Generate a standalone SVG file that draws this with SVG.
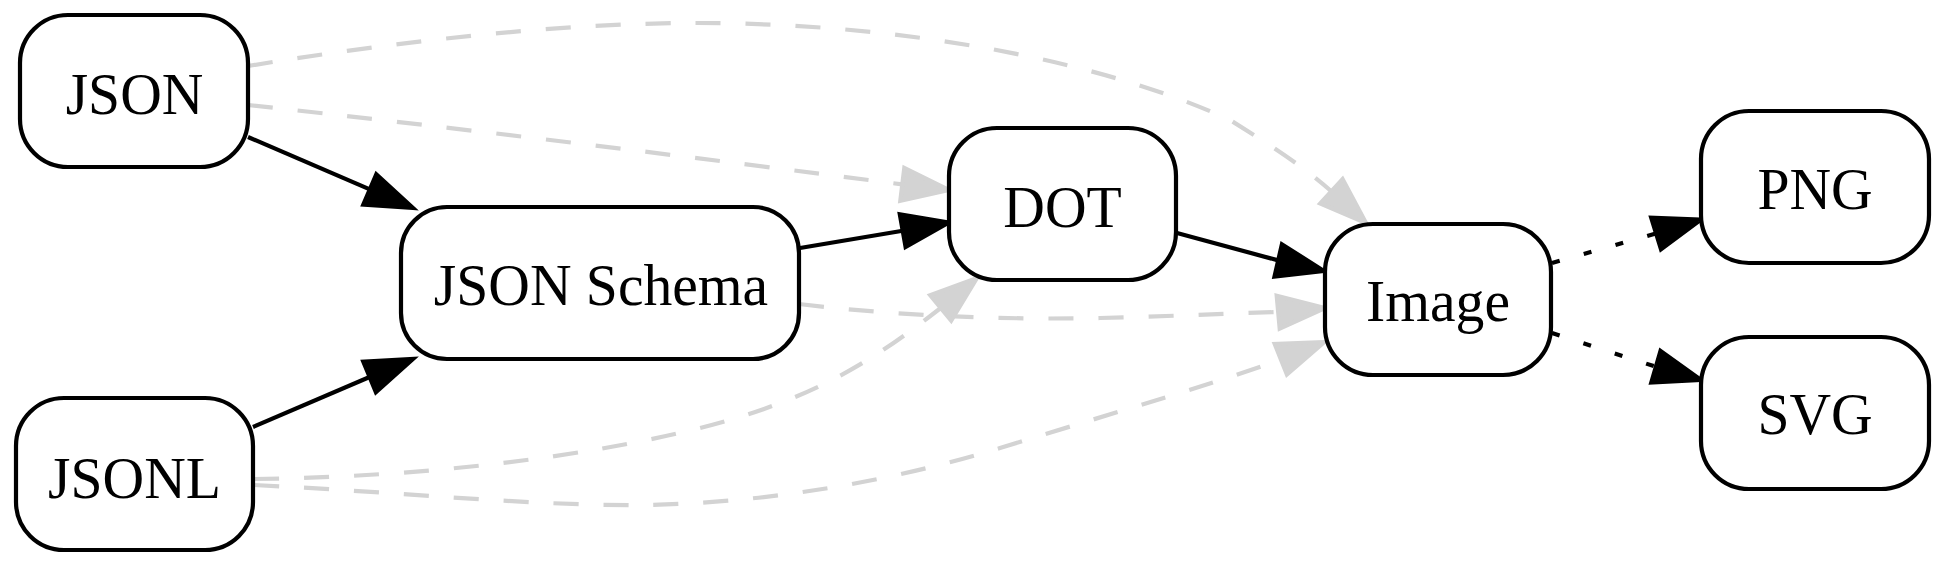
<svg xmlns="http://www.w3.org/2000/svg" width="1942" height="567" viewBox="0 0 1942 567">
<style>
.node rect{fill:#fff;stroke:#000;stroke-width:4.2}
.node text{font-family:"Liberation Serif","Times New Roman",serif;font-size:60px;fill:#000;text-anchor:middle}
.solid{fill:none;stroke:#000;stroke-width:4.2}
.dot{fill:none;stroke:#000;stroke-width:4.2;stroke-dasharray:8,25}
.gray{fill:none;stroke:#d3d3d3;stroke-width:4.2;stroke-dasharray:25,25}
.ah{fill:#000;stroke:#000;stroke-width:4.2}
.ahg{fill:#d3d3d3;stroke:#d3d3d3;stroke-width:4.2}
</style>
<rect width="1942" height="567" fill="#fff"/>
<g id="connectors">
  <!-- JSON -> Image -->
  <path class="gray" d="M248,66 C400,41 560,23 697,23 C900,23 1100,60 1230,120 C1275,148 1305,168 1331,191"/>
  <polygon class="ahg" points="1366,223 1320.2,203.4 1342.6,179"/>
  <!-- JSON -> DOT -->
  <path class="gray" d="M248,105 C450,127 700,158 902,184.4"/>
  <polygon class="ahg" points="949,190 900.3,200.8 904.3,168"/>
  <!-- JSON Schema -> Image -->
  <path class="gray" d="M799,304 C900,316 1000,320 1100,318 C1180,316 1240,313 1278,312"/>
  <polygon class="ahg" points="1325,308 1279.7,328.5 1276.7,295.7"/>
  <!-- JSONL -> DOT -->
  <path class="gray" d="M254,479 C420,477 580,458 700,428 C820,398 880,355 940.7,308"/>
  <polygon class="ahg" points="977,278 951.2,320.6 930.2,295.2"/>
  <!-- JSONL -> Image -->
  <path class="gray" d="M254,485 C400,492 530,506 640,505 C750,504 880,485 1000,448 C1120,411 1220,382 1280.8,359.3"/>
  <polygon class="ahg" points="1324.5,342 1286.9,374.6 1274.7,344"/>
  <!-- JSON -> JSON Schema -->
  <path class="solid" d="M248,137 L369.8,189.4"/>
  <polygon class="ah" points="413,208 363.3,204.6 376.3,174.2"/>
  <!-- JSONL -> JSON Schema -->
  <path class="solid" d="M253,427 L369.6,377"/>
  <polygon class="ah" points="413,359 375.9,392.2 363.3,361.8"/>
  <!-- JSON Schema -> DOT -->
  <path class="solid" d="M800,248 L902.7,230.7"/>
  <polygon class="ah" points="949,222.5 905.6,247 899.8,214.4"/>
  <!-- DOT -> Image -->
  <path class="solid" d="M1177,233 L1278.2,260.4"/>
  <polygon class="ah" points="1324,271 1274.5,276.5 1281.9,244.3"/>
  <!-- Image -> PNG -->
  <path class="dot" d="M1552,263 L1656.1,233.4"/>
  <polygon class="ah" points="1701,219.5 1661,249.2 1651.2,217.6"/>
  <!-- Image -> SVG -->
  <path class="dot" d="M1552,333 L1655.9,366.8"/>
  <polygon class="ah" points="1701,380 1651.3,382.6 1660.5,351"/>
</g>
<g id="node-json" class="node">
  <rect x="20" y="15" width="228" height="152" rx="48" ry="48"/>
  <text transform="translate(134.5,114) scale(0.96,1)">JSON</text>
</g>
<g id="node-jsonl" class="node">
  <rect x="16" y="398" width="237" height="152" rx="48" ry="48"/>
  <text transform="translate(134.5,497.5) scale(0.96,1)">JSONL</text>
</g>
<g id="node-jsonschema" class="node">
  <rect x="401" y="207" width="398" height="152" rx="46" ry="46"/>
  <text transform="translate(601,305) scale(0.96,1)">JSON Schema</text>
</g>
<g id="node-dot" class="node">
  <rect x="949" y="128" width="227" height="152" rx="48" ry="48"/>
  <text transform="translate(1062.5,226.5) scale(0.96,1)">DOT</text>
</g>
<g id="node-image" class="node">
  <rect x="1325" y="224" width="226" height="151" rx="48" ry="48"/>
  <text transform="translate(1438,321) scale(0.96,1)">Image</text>
</g>
<g id="node-png" class="node">
  <rect x="1701" y="111" width="228" height="152" rx="48" ry="48"/>
  <text transform="translate(1815,208.5) scale(0.96,1)">PNG</text>
</g>
<g id="node-svg" class="node">
  <rect x="1701" y="337" width="228" height="152" rx="48" ry="48"/>
  <text transform="translate(1815,433.5) scale(0.96,1)">SVG</text>
</g>
</svg>
